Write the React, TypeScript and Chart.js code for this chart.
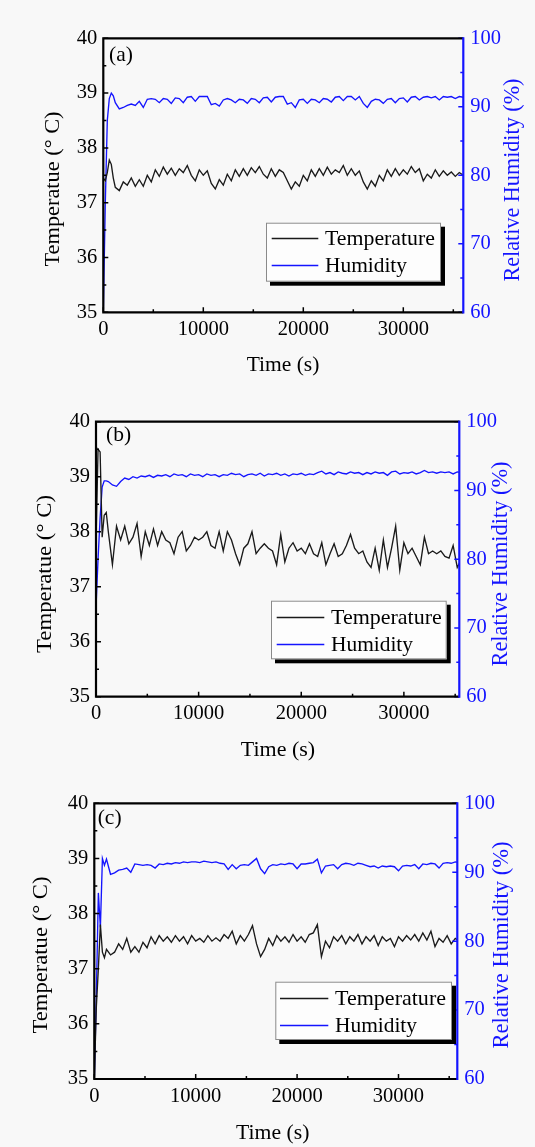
import React, { useEffect, useRef } from "react";
import { Chart, registerables } from "chart.js";

Chart.register(...registerables);

const FONT = "'Liberation Serif', 'Times New Roman', Times, serif";

// ---------- data ----------
const timeSec = [
  0, 200, 400, 600, 800, 1000, 1200, 1600, 2000, 2400,
  2800, 3200, 3600, 4000, 4400, 4800, 5200, 5600, 6000, 6400,
  6800, 7200, 7600, 8000, 8400, 8800, 9200, 9600, 10000, 10400,
  10800, 11200, 11600, 12000, 12400, 12800, 13200, 13600, 14000, 14400,
  14800, 15200, 15600, 16000, 16400, 16800, 17200, 17600, 18000, 18400,
  18800, 19200, 19600, 20000, 20400, 20800, 21200, 21600, 22000, 22400,
  22800, 23200, 23600, 24000, 24400, 24800, 25200, 25600, 26000, 26400,
  26800, 27200, 27600, 28000, 28400, 28800, 29200, 29600, 30000, 30400,
  30800, 31200, 31600, 32000, 32400, 32800, 33200, 33600, 34000, 34400,
  34800, 35200, 35600, 36000,
];

const temperatureA = [
  37.45, 37.4, 37.55, 37.78, 37.7, 37.45, 37.28, 37.22, 37.38, 37.32,
  37.45, 37.3, 37.42, 37.3, 37.5, 37.38, 37.6, 37.48, 37.65, 37.52,
  37.63, 37.5, 37.62, 37.55, 37.68, 37.5, 37.4, 37.6, 37.5, 37.58,
  37.35, 37.25, 37.42, 37.32, 37.52, 37.4, 37.6, 37.48, 37.62, 37.5,
  37.64, 37.55, 37.66, 37.52, 37.45, 37.62, 37.48, 37.6, 37.55, 37.4,
  37.25, 37.38, 37.3, 37.5, 37.4, 37.6, 37.48, 37.62, 37.5, 37.65,
  37.52, 37.6, 37.55, 37.68, 37.5, 37.62, 37.5, 37.58, 37.38, 37.25,
  37.4, 37.3, 37.5, 37.4, 37.6, 37.48, 37.62, 37.5, 37.6, 37.52,
  37.66, 37.55, 37.62, 37.4, 37.52, 37.45, 37.6, 37.48, 37.58, 37.5,
  37.56, 37.48, 37.55, 37.5,
];
const humidityA = [
  60, 76, 88, 91.2, 92, 91.6, 90.6, 89.7, 89.9, 90.2,
  90.4, 90.2, 90.8, 89.9, 91.1, 91.2, 91.1, 90.6, 91.2, 91.1,
  90.5, 91.3, 91.2, 90.6, 91.4, 91.5, 90.8, 91.5, 91.5, 91.5,
  90.3, 90.5, 90.1, 91.0, 91.2, 91.0, 90.6, 91.1, 91.0, 90.5,
  91.2, 91.1, 90.6, 91.3, 91.4, 90.7, 91.4, 91.5, 91.5, 90.4,
  90.6, 89.9, 91.0, 91.1, 90.5, 91.1, 91.0, 90.6, 91.2, 91.1,
  90.7, 91.4, 91.5, 90.9, 91.5, 91.5, 91.0, 91.5, 90.5, 89.9,
  90.8, 91.1, 91.0, 90.5, 91.1, 91.2, 90.6, 91.2, 91.3, 90.7,
  91.4, 91.5, 91.0, 91.4, 91.5, 91.3, 91.5, 91.0, 91.5, 91.4,
  91.5, 91.2, 91.5, 91.4,
];

const temperatureB = [
  37.8, 39.5, 39.45, 37.9, 38.3, 38.35, 38.0, 37.4, 38.1, 37.85,
  38.1, 37.78, 37.9, 38.15, 37.55, 38.0, 37.75, 38.05, 37.75, 38.0,
  37.85, 37.8, 37.6, 37.9, 38.0, 37.65, 37.75, 37.9, 37.85, 37.9,
  38.0, 37.75, 37.7, 38.0, 37.65, 38.0, 37.85, 37.6, 37.4, 37.7,
  37.78, 38.0, 37.6, 37.7, 37.78, 37.7, 37.65, 37.4, 37.95, 37.45,
  37.7, 37.8, 37.65, 37.7, 37.6, 37.78, 37.6, 37.55, 37.8, 37.4,
  37.6, 37.78, 37.55, 37.6, 37.75, 37.95, 37.7, 37.6, 37.65, 37.45,
  37.35, 37.7, 37.3, 37.85, 37.35, 37.7, 38.1, 37.3, 37.8, 37.6,
  37.7, 37.55, 37.4, 37.9, 37.6, 37.65, 37.6, 37.65, 37.55, 37.52,
  37.75, 37.35, 37.5, 37.5,
];
const humidityB = [
  73, 80, 86, 90.5, 91.4, 91.4, 91.3, 90.8, 90.6, 91.3,
  91.8, 91.6, 92.0, 91.8, 92.1, 92.0, 92.2, 91.9, 92.2, 92.1,
  92.3, 92.0, 92.4, 92.2, 92.3, 92.0, 92.4, 92.2, 92.3, 92.0,
  92.4, 92.2, 92.3, 92.0, 92.3, 92.2, 92.5, 92.3, 92.4, 92.0,
  92.3, 92.4, 92.2, 92.5, 92.1, 92.4, 92.3, 92.5, 92.2, 92.4,
  92.1, 92.4, 92.3, 92.5, 92.2, 92.4, 92.3, 92.6, 92.8, 92.4,
  92.6, 92.3, 92.7, 92.5, 92.4, 92.7, 92.5, 92.6, 92.3, 92.6,
  92.4, 92.7, 92.5, 92.6, 92.2, 92.7, 92.8, 92.4, 92.6, 92.5,
  92.7, 92.4, 92.6, 92.9, 92.6, 92.7, 92.5, 92.7, 92.6, 92.7,
  92.4, 92.7, 92.6, 92.6,
];

const temperatureC = [
  35.0, 36.3, 37.0, 37.8, 37.3, 37.2, 37.35, 37.25, 37.3, 37.45,
  37.35, 37.55, 37.3, 37.4, 37.3, 37.48, 37.38, 37.58, 37.45, 37.6,
  37.5, 37.58, 37.48, 37.6, 37.5, 37.58, 37.45, 37.6, 37.5, 37.55,
  37.48, 37.6, 37.5, 37.56, 37.5, 37.62, 37.55, 37.68, 37.45, 37.6,
  37.5, 37.62, 37.78, 37.45, 37.22, 37.35, 37.55, 37.42, 37.6, 37.5,
  37.58, 37.48, 37.62, 37.5, 37.58, 37.48, 37.62, 37.65, 37.8, 37.22,
  37.5, 37.38, 37.58, 37.5, 37.6, 37.45, 37.58, 37.5, 37.62, 37.45,
  37.58, 37.5, 37.6, 37.42, 37.58, 37.5, 37.55, 37.4, 37.58, 37.5,
  37.6, 37.52, 37.62, 37.5, 37.65, 37.52, 37.68, 37.4, 37.55, 37.48,
  37.6, 37.45, 37.55, 37.5,
];
const humidityC = [
  60, 72, 87, 82, 92, 91.0, 91.9, 89.7, 89.9, 90.3,
  90.4, 90.6, 90.0, 91.2, 91.1, 91.0, 91.1, 91.0, 90.6, 91.2,
  91.1, 91.3, 91.2, 91.4, 91.3, 91.5, 91.4, 91.5, 91.5, 91.4,
  91.6, 91.5, 91.4, 91.5, 91.3, 91.2, 90.4, 91.1, 90.5, 91.0,
  91.1, 91.0, 91.5, 92.0, 90.5, 89.8, 90.8, 91.1, 91.0, 91.2,
  91.1, 91.3, 91.2, 90.5, 91.2, 91.2, 91.3, 91.4, 91.9, 89.9,
  90.9, 91.0, 91.1, 90.5, 91.1, 91.3, 91.2, 91.0, 91.3, 91.2,
  91.0, 90.8, 90.9, 90.6, 90.9, 90.8, 90.9, 90.8, 90.2, 90.9,
  91.0, 90.9, 91.1, 90.5, 91.2, 91.1, 91.3, 91.2, 90.6, 91.3,
  91.4, 91.3, 91.5, 91.4,
];

const temperatureSeries = [temperatureA, temperatureB, temperatureC];
const humiditySeries = [humidityA, humidityB, humidityC];

const tempTicks = [35, 36, 37, 38, 39, 40];
const tempMinorTicks = [35.5, 36.5, 37.5, 38.5, 39.5];
const humTicks = [60, 70, 80, 90, 100];
const humMinorTicks = [65, 75, 85, 95];
const timeTicks = [0, 10000, 20000, 30000];
const timeMinorTicks = [5000, 15000, 25000, 35000];
const timeMax = [36000, 35400, 35800];

const seriesLabels = ["Temperature", "Humidity"];
const panelLabels = ["(a)", "(b)", "(c)"];
const xTitle = "Time (s)";
const leftTitle = "Temperatue (° C)";
const rightTitle = "Relative Humidity (%)";

// ---------- layout (pixels, relative to each canvas) ----------
const W = 535;
const BLUE = "#1414ff";
const layouts = [
  {
    top: 0, height: 385,
    area: { l: 103.3, r: 463.3, t: 38.3, b: 312.3 },
    legend: { x: 266, y: 222.7, w: 175, h: 59, l1: 271.7, l2: 318.3, tx: 325, r1: 238.5, r2: 265.5, tw1: 110, tw2: 82 },
    label: { x: 109, y: 55 },
    titles: { lx: 53.3, ly: 189, lw: 155, rx: 513.3, ry: 180, rw: 203, xx: 283, xy: 365.7, xw: 72.7 },
  },
  {
    top: 385, height: 380,
    area: { l: 96, r: 459.3, t: 36.7, b: 311.7 },
    legend: { x: 271, y: 215.7, w: 175.7, h: 58.6, l1: 276.7, l2: 324.3, tx: 331, r1: 232.5, r2: 259.5, tw1: 110.7, tw2: 82 },
    label: { x: 106, y: 50 },
    titles: { lx: 45, ly: 189, lw: 158, rx: 501, ry: 179, rw: 205, xx: 278, xy: 365, xw: 74.3 },
  },
  {
    top: 765, height: 382,
    area: { l: 94.3, r: 457.3, t: 38.3, b: 314 },
    legend: { x: 275.3, y: 216.7, w: 176.7, h: 58.3, l1: 280, l2: 328.3, tx: 335, r1: 233.5, r2: 260.5, tw1: 111, tw2: 82 },
    label: { x: 97.7, y: 53 },
    titles: { lx: 41.7, ly: 190, lw: 157, rx: 502.5, ry: 180, rw: 207, xx: 272.7, xy: 368.3, xw: 73.3 },
  },
];

// draw text centred at (0,0) of the current transform, stretched to the measured width
function fitText(ctx: CanvasRenderingContext2D, text: string, width: number, align: "center" | "left") {
  const m = ctx.measureText(text).width;
  const k = m > 0 ? width / m : 1;
  ctx.save();
  ctx.scale(k, 1);
  ctx.textAlign = align;
  ctx.fillText(text, 0, 0);
  ctx.restore();
}

function makeDecor(idx: number) {
  const L = layouts[idx];
  return {
    id: "decor" + idx,
    afterDatasetsDraw(chart: any) {
      const ctx = chart.ctx as CanvasRenderingContext2D;
      const { left, right, top, bottom } = chart.chartArea;
      const sx = chart.scales.x, sy = chart.scales.y, sy1 = chart.scales.y1;
      ctx.save();
      // tick marks (inward)
      ctx.lineWidth = 1.5;
      ctx.strokeStyle = "#000";
      ctx.beginPath();
      tempTicks.forEach((v) => { const p = sy.getPixelForValue(v); ctx.moveTo(left, p); ctx.lineTo(left + 5, p); });
      tempMinorTicks.forEach((v) => { const p = sy.getPixelForValue(v); ctx.moveTo(left, p); ctx.lineTo(left + 3, p); });
      timeTicks.forEach((v) => { const p = sx.getPixelForValue(v); ctx.moveTo(p, bottom); ctx.lineTo(p, bottom - 5); });
      timeMinorTicks.forEach((v) => { if (v < timeMax[idx]) { const p = sx.getPixelForValue(v); ctx.moveTo(p, bottom); ctx.lineTo(p, bottom - 3); } });
      ctx.stroke();
      ctx.strokeStyle = BLUE;
      ctx.beginPath();
      humTicks.forEach((v) => { const p = sy1.getPixelForValue(v); ctx.moveTo(right, p); ctx.lineTo(right - 5, p); });
      humMinorTicks.forEach((v) => { const p = sy1.getPixelForValue(v); ctx.moveTo(right, p); ctx.lineTo(right - 3, p); });
      ctx.stroke();
      // frame
      ctx.lineWidth = 2.2;
      ctx.strokeStyle = "#000";
      ctx.beginPath();
      ctx.moveTo(right, top); ctx.lineTo(left, top); ctx.lineTo(left, bottom); ctx.lineTo(right, bottom);
      ctx.stroke();
      ctx.strokeStyle = BLUE;
      ctx.beginPath();
      ctx.moveTo(right, top - 1.1); ctx.lineTo(right, bottom + 1.1);
      ctx.stroke();

      // legend with shadow
      const g = L.legend;
      ctx.fillStyle = "#000";
      ctx.fillRect(g.x + 4, g.y + 4, g.w, g.h);
      ctx.fillStyle = "#fdfdfd";
      ctx.fillRect(g.x, g.y, g.w, g.h);
      ctx.lineWidth = 1;
      ctx.strokeStyle = "#8a8a8a";
      ctx.strokeRect(g.x + 0.5, g.y + 0.5, g.w - 1, g.h - 1);
      ctx.lineWidth = 1.4;
      ctx.strokeStyle = "#1a1a1a";
      ctx.beginPath(); ctx.moveTo(g.l1, g.r1); ctx.lineTo(g.l2, g.r1); ctx.stroke();
      ctx.strokeStyle = BLUE;
      ctx.beginPath(); ctx.moveTo(g.l1, g.r2); ctx.lineTo(g.l2, g.r2); ctx.stroke();
      ctx.fillStyle = "#000";
      ctx.font = `21.5px ${FONT}`;
      ctx.textBaseline = "middle";
      ctx.save(); ctx.translate(g.tx, g.r1 + 1); fitText(ctx, seriesLabels[0], g.tw1, "left"); ctx.restore();
      ctx.save(); ctx.translate(g.tx, g.r2 + 1); fitText(ctx, seriesLabels[1], g.tw2, "left"); ctx.restore();

      // panel label
      ctx.textAlign = "left";
      ctx.fillText(panelLabels[idx], L.label.x, L.label.y);

      // axis titles
      const T = L.titles;
      ctx.font = `21.5px ${FONT}`;
      ctx.save(); ctx.translate(T.xx, T.xy); fitText(ctx, xTitle, T.xw, "center"); ctx.restore();
      ctx.font = `22px ${FONT}`;
      ctx.save();
      ctx.translate(T.lx, T.ly);
      ctx.rotate(-Math.PI / 2);
      fitText(ctx, leftTitle, T.lw, "center");
      ctx.restore();
      ctx.save();
      ctx.fillStyle = BLUE;
      ctx.font = `22.5px ${FONT}`;
      ctx.translate(T.rx, T.ry);
      ctx.rotate(-Math.PI / 2);
      fitText(ctx, rightTitle, T.rw, "center");
      ctx.restore();
      ctx.restore();
    },
  };
}

function Panel({ idx }: { idx: number }) {
  const ref = useRef<HTMLCanvasElement>(null);
  const L = layouts[idx];
  useEffect(() => {
    const canvas = ref.current;
    if (!canvas) return;
    const temps = temperatureSeries[idx];
    const hums = humiditySeries[idx];
    const tickFont = { family: FONT, size: 20.5 };
    const chart = new Chart(canvas, {
      type: "line",
      data: {
        datasets: [
          {
            label: seriesLabels[0],
            data: timeSec.map((t, i) => ({ x: t, y: temps[i] })),
            yAxisID: "y",
            borderColor: "#1a1a1a",
            borderWidth: 1.35,
            pointRadius: 0,
            tension: 0,
          },
          {
            label: seriesLabels[1],
            data: timeSec.map((t, i) => ({ x: t, y: hums[i] })),
            yAxisID: "y1",
            borderColor: BLUE,
            borderWidth: 1.35,
            pointRadius: 0,
            tension: 0,
          },
        ],
      },
      options: {
        responsive: false,
        animation: false,
        devicePixelRatio: 1,
        layout: { padding: { left: 0, right: 0, top: L.area.t, bottom: 0 } },
        plugins: { legend: { display: false }, tooltip: { enabled: false } },
        scales: {
          x: {
            type: "linear",
            position: "bottom",
            min: 0,
            max: timeMax[idx],
            grid: { display: false, drawTicks: false },
            border: { display: false },
            afterBuildTicks: (s: any) => { s.ticks = timeTicks.map((v) => ({ value: v })); },
            afterFit: (s: any) => { s.height = L.height - L.area.b; },
            ticks: { font: tickFont, color: "#000", padding: 5, maxRotation: 0, autoSkip: false, callback: (v: any) => String(v) },
          },
          y: {
            type: "linear",
            position: "left",
            min: 35,
            max: 40,
            grid: { display: false, drawTicks: false },
            border: { display: false },
            afterBuildTicks: (s: any) => { s.ticks = tempTicks.map((v) => ({ value: v })); },
            afterFit: (s: any) => { s.width = L.area.l; },
            ticks: { font: tickFont, color: "#000", padding: 6, callback: (v: any) => String(v) },
          },
          y1: {
            type: "linear",
            position: "right",
            min: 60,
            max: 100,
            grid: { display: false, drawTicks: false },
            border: { display: false },
            afterBuildTicks: (s: any) => { s.ticks = humTicks.map((v) => ({ value: v })); },
            afterFit: (s: any) => { s.width = W - L.area.r; },
            ticks: { font: tickFont, color: BLUE, padding: 7, callback: (v: any) => String(v) },
          },
        },
      },
      plugins: [makeDecor(idx)],
    } as any);
    return () => chart.destroy();
  }, [idx]);
  return (
    <canvas
      ref={ref}
      width={W}
      height={L.height}
      style={{ position: "absolute", left: 0, top: L.top, width: W, height: L.height, display: "block" }}
    />
  );
}

export default function App() {
  return (
    <div style={{ position: "absolute", left: 0, top: 0, width: W, height: 1147, background: "#f8f8f8", overflow: "hidden" }}>
      <Panel idx={0} />
      <Panel idx={1} />
      <Panel idx={2} />
    </div>
  );
}
